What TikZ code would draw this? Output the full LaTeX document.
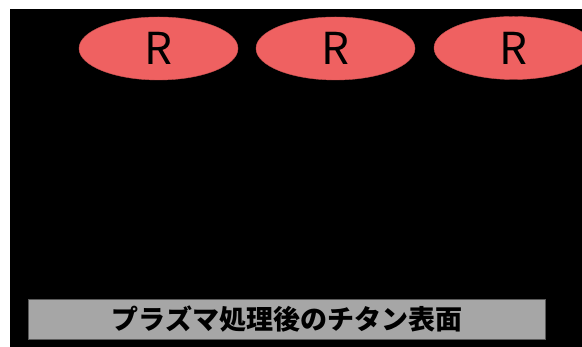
\documentclass[tikz,border=0pt]{standalone}
\usepackage{fontspec}
\newfontfamily\cjk{Noto Sans CJK JP}
\usetikzlibrary{shapes.geometric}
\definecolor{rfill}{RGB}{239,97,97}
\definecolor{barfill}{RGB}{166,166,166}
\definecolor{barline}{RGB}{90,90,90}
\tikzset{
  x=1pt,y=1pt,
  rblob/.style={ellipse, fill=rfill, draw=rfill!85!black, line width=0.4pt,
    minimum width=159pt, minimum height=63pt, inner sep=0pt,
    font=\cjk\fontsize{44}{44}\selectfont, text=black},
  barbox/.style={rectangle, fill=barfill, draw=barline, line width=0.8pt,
    minimum width=517.7pt, minimum height=40pt, inner sep=0pt,
    font=\cjk\bfseries\fontsize{27}{27}\selectfont, text=black}
}
\begin{document}
\begin{tikzpicture}
\useasboundingbox (0,0) rectangle (582,347);
\clip (0,0) rectangle (582,347);
\fill[black] (10,0) rectangle (582,338);
\node[rblob] (r1) at (158.5,298.5) {R};
\node[rblob] (r2) at (335.5,298.5) {R};
\node[rblob] (r3) at (513.5,299) {R};
\node[barbox] (bar) at (286.8,28) {プラズマ処理後のチタン表面};
\end{tikzpicture}
\end{document}
